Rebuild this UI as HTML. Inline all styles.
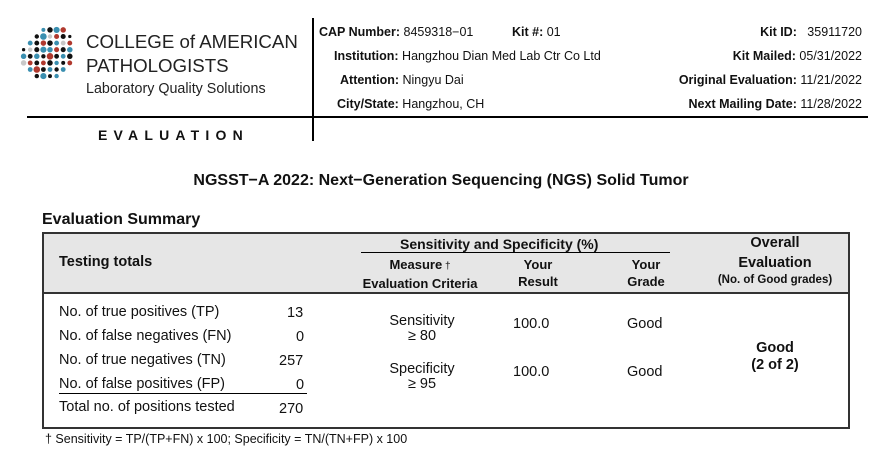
<!DOCTYPE html>
<html><head><meta charset="utf-8"><style>
body{margin:0;width:882px;height:455px;background:#fff;position:relative;overflow:hidden;font-family:"Liberation Sans",Arial,sans-serif;color:#111}
.a{position:absolute;white-space:nowrap}
.b{font-weight:bold}
.s{font-size:12.5px}
.n{font-size:14.5px}
.h{font-size:14px;font-weight:bold}
.c{text-align:center}
</style></head><body>
<svg class="a" style="left:0;top:0" width="90" height="90">
<g transform="translate(-5,-2) scale(1.1)">
<circle cx="44" cy="29" r="1.8" fill="#3a8fb0"/><circle cx="50" cy="29" r="2.5" fill="#111"/><circle cx="56" cy="29" r="2.8" fill="#3a8fb0"/><circle cx="62" cy="29" r="2.5" fill="#b0392e"/>
<circle cx="38" cy="35" r="2" fill="#111"/><circle cx="44" cy="35" r="3" fill="#3a8fb0"/><circle cx="50" cy="35" r="2" fill="#c8c8c8"/><circle cx="56" cy="35" r="2.3" fill="#b0392e"/><circle cx="62" cy="35" r="2.3" fill="#111"/><circle cx="68" cy="35" r="1.5" fill="#111"/>
<circle cx="32" cy="41" r="2.2" fill="#3a8fb0"/><circle cx="38" cy="41" r="2.2" fill="#111"/><circle cx="44" cy="41" r="2.5" fill="#b0392e"/><circle cx="50" cy="41" r="2.5" fill="#111"/><circle cx="56" cy="41" r="2.2" fill="#3a8fb0"/><circle cx="62" cy="41" r="2.2" fill="#c8c8c8"/><circle cx="68" cy="41" r="2.2" fill="#b0392e"/>
<circle cx="26" cy="47" r="1.5" fill="#111"/><circle cx="32" cy="47" r="2" fill="#c8c8c8"/><circle cx="38" cy="47" r="2.3" fill="#111"/><circle cx="44" cy="47" r="2.8" fill="#3a8fb0"/><circle cx="50" cy="47" r="2.5" fill="#3a8fb0"/><circle cx="56" cy="47" r="2.3" fill="#b0392e"/><circle cx="62" cy="47" r="2.3" fill="#111"/><circle cx="68" cy="47" r="2.5" fill="#3a8fb0"/>
<circle cx="26" cy="53" r="2.5" fill="#3a8fb0"/><circle cx="32" cy="53" r="2.2" fill="#111"/><circle cx="38" cy="53" r="2.5" fill="#3a8fb0"/><circle cx="44" cy="53" r="2" fill="#111"/><circle cx="50" cy="53" r="3" fill="#b0392e"/><circle cx="56" cy="53" r="2.2" fill="#111"/><circle cx="62" cy="53" r="2.2" fill="#3a8fb0"/><circle cx="68" cy="53" r="2.5" fill="#111"/>
<circle cx="26" cy="59" r="2.5" fill="#c8c8c8"/><circle cx="32" cy="59" r="2.2" fill="#b0392e"/><circle cx="38" cy="59" r="2.2" fill="#111"/><circle cx="44" cy="59" r="2.2" fill="#b0392e"/><circle cx="50" cy="59" r="2.5" fill="#111"/><circle cx="56" cy="59" r="2" fill="#3a8fb0"/><circle cx="62" cy="59" r="1.8" fill="#111"/><circle cx="68" cy="59" r="2.2" fill="#b0392e"/>
<circle cx="32" cy="65" r="2.2" fill="#3a8fb0"/><circle cx="38" cy="65" r="3" fill="#b0392e"/><circle cx="44" cy="65" r="2.2" fill="#111"/><circle cx="50" cy="65" r="2.2" fill="#3a8fb0"/><circle cx="56" cy="65" r="2" fill="#111"/><circle cx="62" cy="65" r="2.2" fill="#3a8fb0"/>
<circle cx="38" cy="71" r="2" fill="#111"/><circle cx="44" cy="71" r="2.8" fill="#3a8fb0"/><circle cx="50" cy="71" r="1.8" fill="#111"/><circle cx="56" cy="71" r="2" fill="#3a8fb0"/>
</g></svg>
<div class="a" style="left:86px;top:31px;font-size:18.7px;color:#222">COLLEGE of AMERICAN</div>
<div class="a" style="left:86px;top:55px;font-size:18.7px;color:#222">PATHOLOGISTS</div>
<div class="a" style="left:86px;top:81px;font-size:14.3px;color:#222">Laboratory Quality Solutions</div>
<div class="a" style="left:27px;top:116px;width:841px;height:2px;background:#000"></div>
<div class="a" style="left:312px;top:18px;width:2px;height:123px;background:#000"></div>
<div class="a b" style="left:98px;top:127px;font-size:14px;letter-spacing:6.2px">EVALUATION</div>

<div class="a s" style="left:319px;top:25px"><b>CAP Number:</b> 8459318−01</div>
<div class="a s" style="left:512px;top:25px"><b>Kit #:</b> 01</div>
<div class="a s" style="right:20px;top:25px"><b>Kit ID:</b>&nbsp;&nbsp; 35911720</div>
<div class="a s" style="left:334px;top:49px"><b>Institution:</b> Hangzhou Dian Med Lab Ctr Co Ltd</div>
<div class="a s" style="right:20px;top:49px"><b>Kit Mailed:</b> 05/31/2022</div>
<div class="a s" style="left:340px;top:73px"><b>Attention:</b> Ningyu Dai</div>
<div class="a s" style="right:20px;top:73px"><b>Original Evaluation:</b> 11/21/2022</div>
<div class="a s" style="left:337px;top:97px"><b>City/State:</b> Hangzhou, CH</div>
<div class="a s" style="right:20px;top:97px"><b>Next Mailing Date:</b> 11/28/2022</div>

<div class="a b" style="left:0;width:882px;top:172px;text-align:center;font-size:16px">NGSST−A 2022: Next−Generation Sequencing (NGS) Solid Tumor</div>
<div class="a b" style="left:42px;top:211px;font-size:16px">Evaluation Summary</div>

<div class="a" style="left:42px;top:232px;width:804px;height:193px;border:2px solid #333"></div>
<div class="a" style="left:44px;top:234px;width:804px;height:58px;background:#e6e6e6;border-bottom:2px solid #333"></div>
<div class="a h" style="left:59px;top:254px;font-size:14.5px">Testing totals</div>
<div class="a h" style="left:400px;top:236px">Sensitivity and Specificity (%)</div>
<div class="a" style="left:361px;top:252px;width:309px;height:1px;background:#000"></div>
<div class="a b c" style="left:340px;width:160px;top:256px;font-size:13px;line-height:17px">Measure<span style="font-size:10px;font-weight:normal"> †</span><br>Evaluation Criteria</div>
<div class="a b c" style="left:498px;width:80px;top:256px;font-size:13px;line-height:17px">Your<br>Result</div>
<div class="a b c" style="left:606px;width:80px;top:256px;font-size:13px;line-height:17px">Your<br>Grade</div>
<div class="a b c" style="left:700px;width:150px;top:233px;font-size:14.5px;line-height:20px">Overall<br>Evaluation</div>
<div class="a b c" style="left:700px;width:150px;top:274px;font-size:11.5px">(No. of Good grades)</div>

<div class="a n" style="left:59px;top:304px">No. of true positives (TP)</div><div class="a n" style="left:287px;top:305px">13</div>
<div class="a n" style="left:59px;top:328px">No. of false negatives (FN)</div><div class="a n" style="left:296px;top:329px">0</div>
<div class="a n" style="left:59px;top:352px">No. of true negatives (TN)</div><div class="a n" style="left:279px;top:353px">257</div>
<div class="a n" style="left:59px;top:376px">No. of false positives (FP)</div><div class="a n" style="left:296px;top:377px">0</div>
<div class="a" style="left:59px;top:393px;width:248px;height:1px;background:#000"></div>
<div class="a n" style="left:59px;top:399px">Total no. of positions tested</div><div class="a n" style="left:279px;top:401px">270</div>

<div class="a n c" style="left:362px;width:120px;top:314px;line-height:15px">Sensitivity<br>≥ 80</div>
<div class="a n c" style="left:362px;width:120px;top:362px;line-height:15px">Specificity<br>≥ 95</div>
<div class="a n" style="left:513px;top:316px">100.0</div>
<div class="a n" style="left:627px;top:316px">Good</div>
<div class="a n" style="left:513px;top:364px">100.0</div>
<div class="a n" style="left:627px;top:364px">Good</div>
<div class="a b c" style="left:700px;width:150px;top:340px;font-size:14.5px;line-height:17px">Good<br>(2 of 2)</div>

<div class="a" style="left:45px;top:432px;font-size:12.5px">† Sensitivity = TP/(TP+FN) x 100; Specificity = TN/(TN+FP) x 100</div>
</body></html>
